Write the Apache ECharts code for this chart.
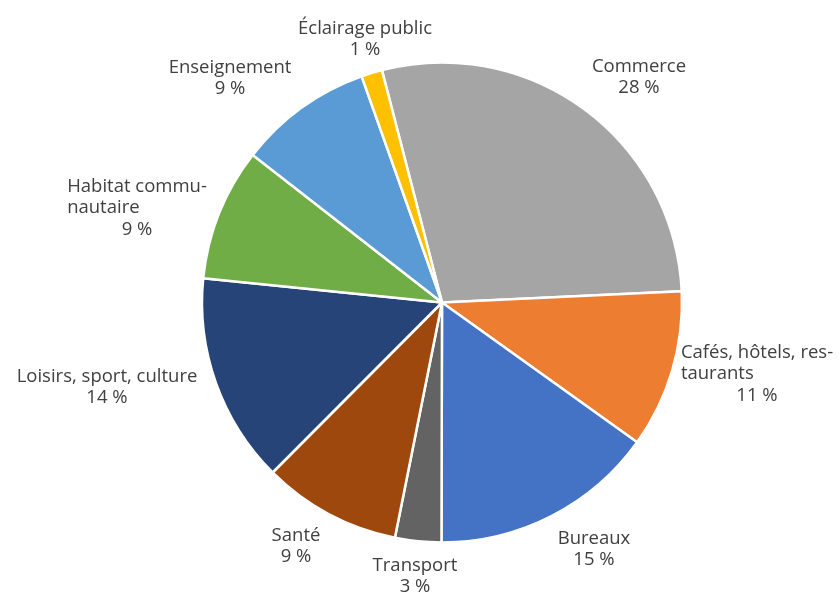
<!DOCTYPE html>
<html>
<head>
<meta charset="utf-8">
<script src="https://cdn.jsdelivr.net/npm/echarts@6/dist/echarts.min.js"></script>
<style>
  html, body { margin: 0; padding: 0; background: #ffffff; }
  #chart { width: 840px; height: 595px; }
</style>
</head>
<body>
<div id="chart"></div>
<script>
// Répartition par type de bâtiment (%), dans le sens horaire
const categories = [
  'Commerce', 'Cafés, hôtels, restaurants', 'Bureaux', 'Transport', 'Santé',
  'Loisirs, sport, culture', 'Habitat communautaire', 'Enseignement', 'Éclairage public'
];
const shares = [28.2, 10.6, 15.1, 3.1, 9.3, 14.1, 8.9, 9.0, 1.4];
// Libellés affichés, avec coupure de ligne
const labelLines = [
  ['Commerce'],
  ['Cafés, hôtels, res-', 'taurants'],
  ['Bureaux'],
  ['Transport'],
  ['Santé'],
  ['Loisirs, sport, culture'],
  ['Habitat commu-', 'nautaire'],
  ['Enseignement'],
  ['Éclairage public']
];
const colors = ['#A5A5A5', '#ED7D31', '#4472C4', '#636363', '#9E480E',
                '#264478', '#70AD47', '#5B9BD5', '#FFC000'];

// Centre de chaque bloc de libellé (px)
const labelAnchors = [
  [639, 77], [757, 374], [594, 549], [415, 576], [296, 546],
  [107, 387], [137, 208], [230, 78], [365, 39]
];

const FONT = '"Open Sans", sans-serif';
const FS = 18.5;
const LH = 21.5;

const chart = echarts.init(document.getElementById('chart'), null, { renderer: 'canvas' });

chart.setOption({
  animation: false,
  backgroundColor: '#ffffff',
  series: [{
    type: 'pie',
    center: [442, 302.5],
    radius: [0, 240],
    startAngle: 104.5,
    clockwise: true,
    avoidLabelOverlap: false,
    data: categories.map((name, i) => ({
      name: name,
      value: shares[i],
      itemStyle: { color: colors[i] }
    })),
    itemStyle: { borderColor: '#ffffff', borderWidth: 2.5 },
    label: {
      show: true,
      position: 'outside',
      fontFamily: FONT,
      fontSize: FS,
      color: '#404040',
      lineHeight: LH,
      formatter: function (p) {
        const lines = labelLines[p.dataIndex];
        const pct = Math.round(p.value) + ' %';
        if (lines.length > 1) {
          return lines.map(t => '{l|' + t + '}').join('\n') + '\n{c|' + pct + '}';
        }
        return '{c|' + lines[0] + '}\n{c|' + pct + '}';
      },
      rich: {
        l: { align: 'left', fontFamily: FONT, fontSize: FS, color: '#404040', lineHeight: LH },
        c: { align: 'center', fontFamily: FONT, fontSize: FS, color: '#404040', lineHeight: LH }
      }
    },
    labelLine: { show: false },
    labelLayout: function (p) {
      const a = labelAnchors[p.dataIndex];
      return { x: a[0], y: a[1], align: 'center', verticalAlign: 'middle' };
    },
    emphasis: { disabled: true }
  }]
});
</script>
</body>
</html>
